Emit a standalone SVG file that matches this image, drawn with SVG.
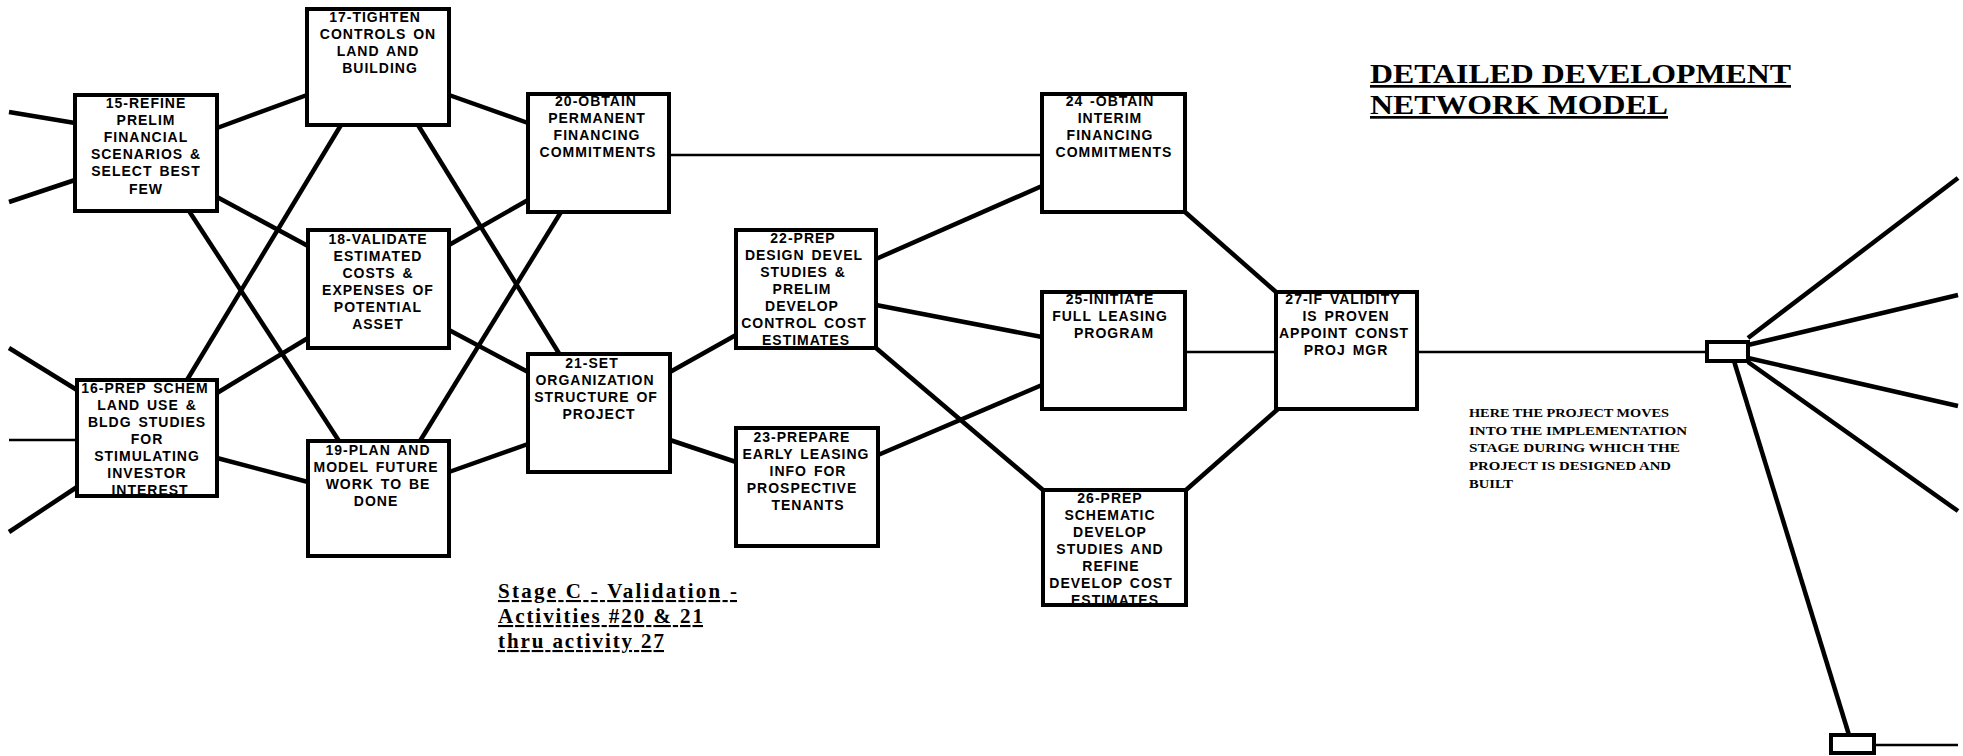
<svg xmlns="http://www.w3.org/2000/svg" width="1963" height="756" viewBox="0 0 1963 756">
<style>
.bg{fill:#fff}
.box{fill:#fff;stroke:#000;stroke-width:4}
.c{stroke:#000;stroke-width:4.5;fill:none;stroke-linecap:butt}
.t{stroke:#000;stroke-width:2.5;fill:none}
.lbl{font-family:"Liberation Sans",Arial,sans-serif;font-weight:bold;font-size:14px;letter-spacing:1px;word-spacing:2px;text-anchor:middle;fill:#000}
.title{font-family:"Liberation Serif","Times New Roman",serif;font-weight:bold;font-size:27px;fill:#000;text-decoration:underline}
.stage{font-family:"Liberation Serif","Times New Roman",serif;font-weight:bold;font-size:21px;fill:#000;text-decoration:underline}
.note{font-family:"Liberation Serif","Times New Roman",serif;font-weight:bold;font-size:13px;fill:#000}
</style>
<rect class="bg" x="0" y="0" width="1963" height="756"/>
<g id="connectors">
<line class="c" x1="9" y1="112" x2="75" y2="123"/>
<line class="c" x1="9" y1="202" x2="75" y2="180"/>
<line class="c" x1="9" y1="348" x2="77" y2="390"/>
<line class="t" x1="9" y1="440" x2="77" y2="440"/>
<line class="c" x1="9" y1="532" x2="77" y2="487"/>
<line class="c" x1="217" y1="128" x2="307" y2="95"/>
<line class="c" x1="217" y1="197" x2="308" y2="246"/>
<line class="c" x1="189" y1="211" x2="339" y2="441"/>
<line class="c" x1="187" y1="380" x2="341" y2="125"/>
<line class="c" x1="217" y1="393" x2="308" y2="338"/>
<line class="c" x1="217" y1="458" x2="308" y2="482"/>
<line class="c" x1="449" y1="95" x2="528" y2="123"/>
<line class="c" x1="418" y1="125" x2="560" y2="355"/>
<line class="c" x1="449" y1="245" x2="528" y2="200"/>
<line class="c" x1="449" y1="330" x2="528" y2="372"/>
<line class="c" x1="420" y1="441" x2="561" y2="212"/>
<line class="c" x1="449" y1="472" x2="528" y2="444"/>
<line class="t" x1="669" y1="155" x2="1042" y2="155"/>
<line class="c" x1="670" y1="372" x2="736" y2="335"/>
<line class="c" x1="670" y1="440" x2="736" y2="462"/>
<line class="c" x1="876" y1="259" x2="1042" y2="186"/>
<line class="c" x1="876" y1="305" x2="1042" y2="337"/>
<line class="c" x1="876" y1="348" x2="1043" y2="490"/>
<line class="c" x1="878" y1="455" x2="1042" y2="385"/>
<line class="c" x1="1185" y1="212" x2="1276" y2="292"/>
<line class="t" x1="1185" y1="352" x2="1276" y2="352"/>
<line class="c" x1="1186" y1="490" x2="1278" y2="409"/>
<line class="t" x1="1417" y1="352" x2="1707" y2="352"/>
<line class="c" x1="1748" y1="338" x2="1958" y2="178"/>
<line class="c" x1="1748" y1="345" x2="1958" y2="295"/>
<line class="c" x1="1748" y1="358" x2="1958" y2="406"/>
<line class="c" x1="1748" y1="362" x2="1958" y2="511"/>
<line class="c" x1="1734" y1="361" x2="1849" y2="735"/>
<line class="t" x1="1874" y1="745" x2="1958" y2="745"/>
</g>
<g id="n15">
<rect class="box" x="75" y="95" width="142" height="116"/>
<text class="lbl" x="146" y="108">15-REFINE</text>
<text class="lbl" x="146" y="125">PRELIM</text>
<text class="lbl" x="146" y="142">FINANCIAL</text>
<text class="lbl" x="146" y="159">SCENARIOS &amp;</text>
<text class="lbl" x="146" y="176">SELECT BEST</text>
<text class="lbl" x="146" y="194">FEW</text>
</g>
<g id="n16">
<rect class="box" x="77" y="380" width="140" height="116"/>
<text class="lbl" x="145" y="393">16-PREP SCHEM</text>
<text class="lbl" x="147" y="410">LAND USE &amp;</text>
<text class="lbl" x="147" y="427">BLDG STUDIES</text>
<text class="lbl" x="147" y="444">FOR</text>
<text class="lbl" x="147" y="461">STIMULATING</text>
<text class="lbl" x="147" y="478">INVESTOR</text>
<text class="lbl" x="150" y="495">INTEREST</text>
</g>
<g id="n17">
<rect class="box" x="307" y="9" width="142" height="116"/>
<text class="lbl" x="375" y="22">17-TIGHTEN</text>
<text class="lbl" x="378" y="39">CONTROLS ON</text>
<text class="lbl" x="378" y="56">LAND AND</text>
<text class="lbl" x="380" y="73">BUILDING</text>
</g>
<g id="n18">
<rect class="box" x="308" y="230" width="141" height="118"/>
<text class="lbl" x="378" y="244">18-VALIDATE</text>
<text class="lbl" x="378" y="261">ESTIMATED</text>
<text class="lbl" x="378" y="278">COSTS &amp;</text>
<text class="lbl" x="378" y="295">EXPENSES OF</text>
<text class="lbl" x="378" y="312">POTENTIAL</text>
<text class="lbl" x="378" y="329">ASSET</text>
</g>
<g id="n19">
<rect class="box" x="308" y="441" width="141" height="115"/>
<text class="lbl" x="378" y="455">19-PLAN AND</text>
<text class="lbl" x="376" y="472">MODEL FUTURE</text>
<text class="lbl" x="378" y="489">WORK TO BE</text>
<text class="lbl" x="376" y="506">DONE</text>
</g>
<g id="n20">
<rect class="box" x="528" y="94" width="141" height="118"/>
<text class="lbl" x="596" y="106">20-OBTAIN</text>
<text class="lbl" x="597" y="123">PERMANENT</text>
<text class="lbl" x="597" y="140">FINANCING</text>
<text class="lbl" x="598" y="157">COMMITMENTS</text>
</g>
<g id="n21">
<rect class="box" x="528" y="354" width="142" height="118"/>
<text class="lbl" x="592" y="368">21-SET</text>
<text class="lbl" x="595" y="385">ORGANIZATION</text>
<text class="lbl" x="596" y="402">STRUCTURE OF</text>
<text class="lbl" x="599" y="419">PROJECT</text>
</g>
<g id="n22">
<rect class="box" x="736" y="230" width="140" height="118"/>
<text class="lbl" x="803" y="243">22-PREP</text>
<text class="lbl" x="804" y="260">DESIGN DEVEL</text>
<text class="lbl" x="803" y="277">STUDIES &amp;</text>
<text class="lbl" x="802" y="294">PRELIM</text>
<text class="lbl" x="802" y="311">DEVELOP</text>
<text class="lbl" x="804" y="328">CONTROL COST</text>
<text class="lbl" x="806" y="345">ESTIMATES</text>
</g>
<g id="n23">
<rect class="box" x="736" y="428" width="142" height="118"/>
<text class="lbl" x="802" y="442">23-PREPARE</text>
<text class="lbl" x="806" y="459">EARLY LEASING</text>
<text class="lbl" x="808" y="476">INFO FOR</text>
<text class="lbl" x="802" y="493">PROSPECTIVE</text>
<text class="lbl" x="808" y="510">TENANTS</text>
</g>
<g id="n24">
<rect class="box" x="1042" y="94" width="143" height="118"/>
<text class="lbl" x="1110" y="106">24 -OBTAIN</text>
<text class="lbl" x="1110" y="123">INTERIM</text>
<text class="lbl" x="1110" y="140">FINANCING</text>
<text class="lbl" x="1114" y="157">COMMITMENTS</text>
</g>
<g id="n25">
<rect class="box" x="1042" y="292" width="143" height="117"/>
<text class="lbl" x="1110" y="304">25-INITIATE</text>
<text class="lbl" x="1110" y="321">FULL LEASING</text>
<text class="lbl" x="1114" y="338">PROGRAM</text>
</g>
<g id="n26">
<rect class="box" x="1043" y="490" width="143" height="115"/>
<text class="lbl" x="1110" y="503">26-PREP</text>
<text class="lbl" x="1110" y="520">SCHEMATIC</text>
<text class="lbl" x="1110" y="537">DEVELOP</text>
<text class="lbl" x="1110" y="554">STUDIES AND</text>
<text class="lbl" x="1111" y="571">REFINE</text>
<text class="lbl" x="1111" y="588">DEVELOP COST</text>
<text class="lbl" x="1115" y="605">ESTIMATES</text>
</g>
<g id="n27">
<rect class="box" x="1276" y="292" width="141" height="117"/>
<text class="lbl" x="1343" y="304">27-IF VALIDITY</text>
<text class="lbl" x="1346" y="321">IS PROVEN</text>
<text class="lbl" x="1344" y="338">APPOINT CONST</text>
<text class="lbl" x="1346" y="355">PROJ MGR</text>
</g>
<g id="s1">
<rect class="box" x="1707" y="342" width="41" height="19"/>
</g>
<g id="s2">
<rect class="box" x="1831" y="735" width="43" height="18"/>
</g>
<g id="title">
<text class="title" x="1370" y="83" textLength="421" lengthAdjust="spacingAndGlyphs">DETAILED DEVELOPMENT</text>
<text class="title" x="1370" y="114" textLength="298" lengthAdjust="spacingAndGlyphs">NETWORK MODEL</text>
</g>
<g id="stage">
<text class="stage" x="498" y="598" textLength="239" lengthAdjust="spacing">Stage C - Validation -</text>
<text class="stage" x="498" y="623" textLength="205" lengthAdjust="spacing">Activities #20 &amp; 21</text>
<text class="stage" x="498" y="648" textLength="166" lengthAdjust="spacing">thru activity 27</text>
</g>
<g id="note">
<text class="note" x="1469" y="417" textLength="200" lengthAdjust="spacingAndGlyphs">HERE THE PROJECT MOVES</text>
<text class="note" x="1469" y="435" textLength="218" lengthAdjust="spacingAndGlyphs">INTO THE IMPLEMENTATION</text>
<text class="note" x="1469" y="452" textLength="211" lengthAdjust="spacingAndGlyphs">STAGE DURING WHICH THE</text>
<text class="note" x="1469" y="470" textLength="202" lengthAdjust="spacingAndGlyphs">PROJECT IS DESIGNED AND</text>
<text class="note" x="1469" y="488" textLength="44" lengthAdjust="spacingAndGlyphs">BUILT</text>
</g>
</svg>
